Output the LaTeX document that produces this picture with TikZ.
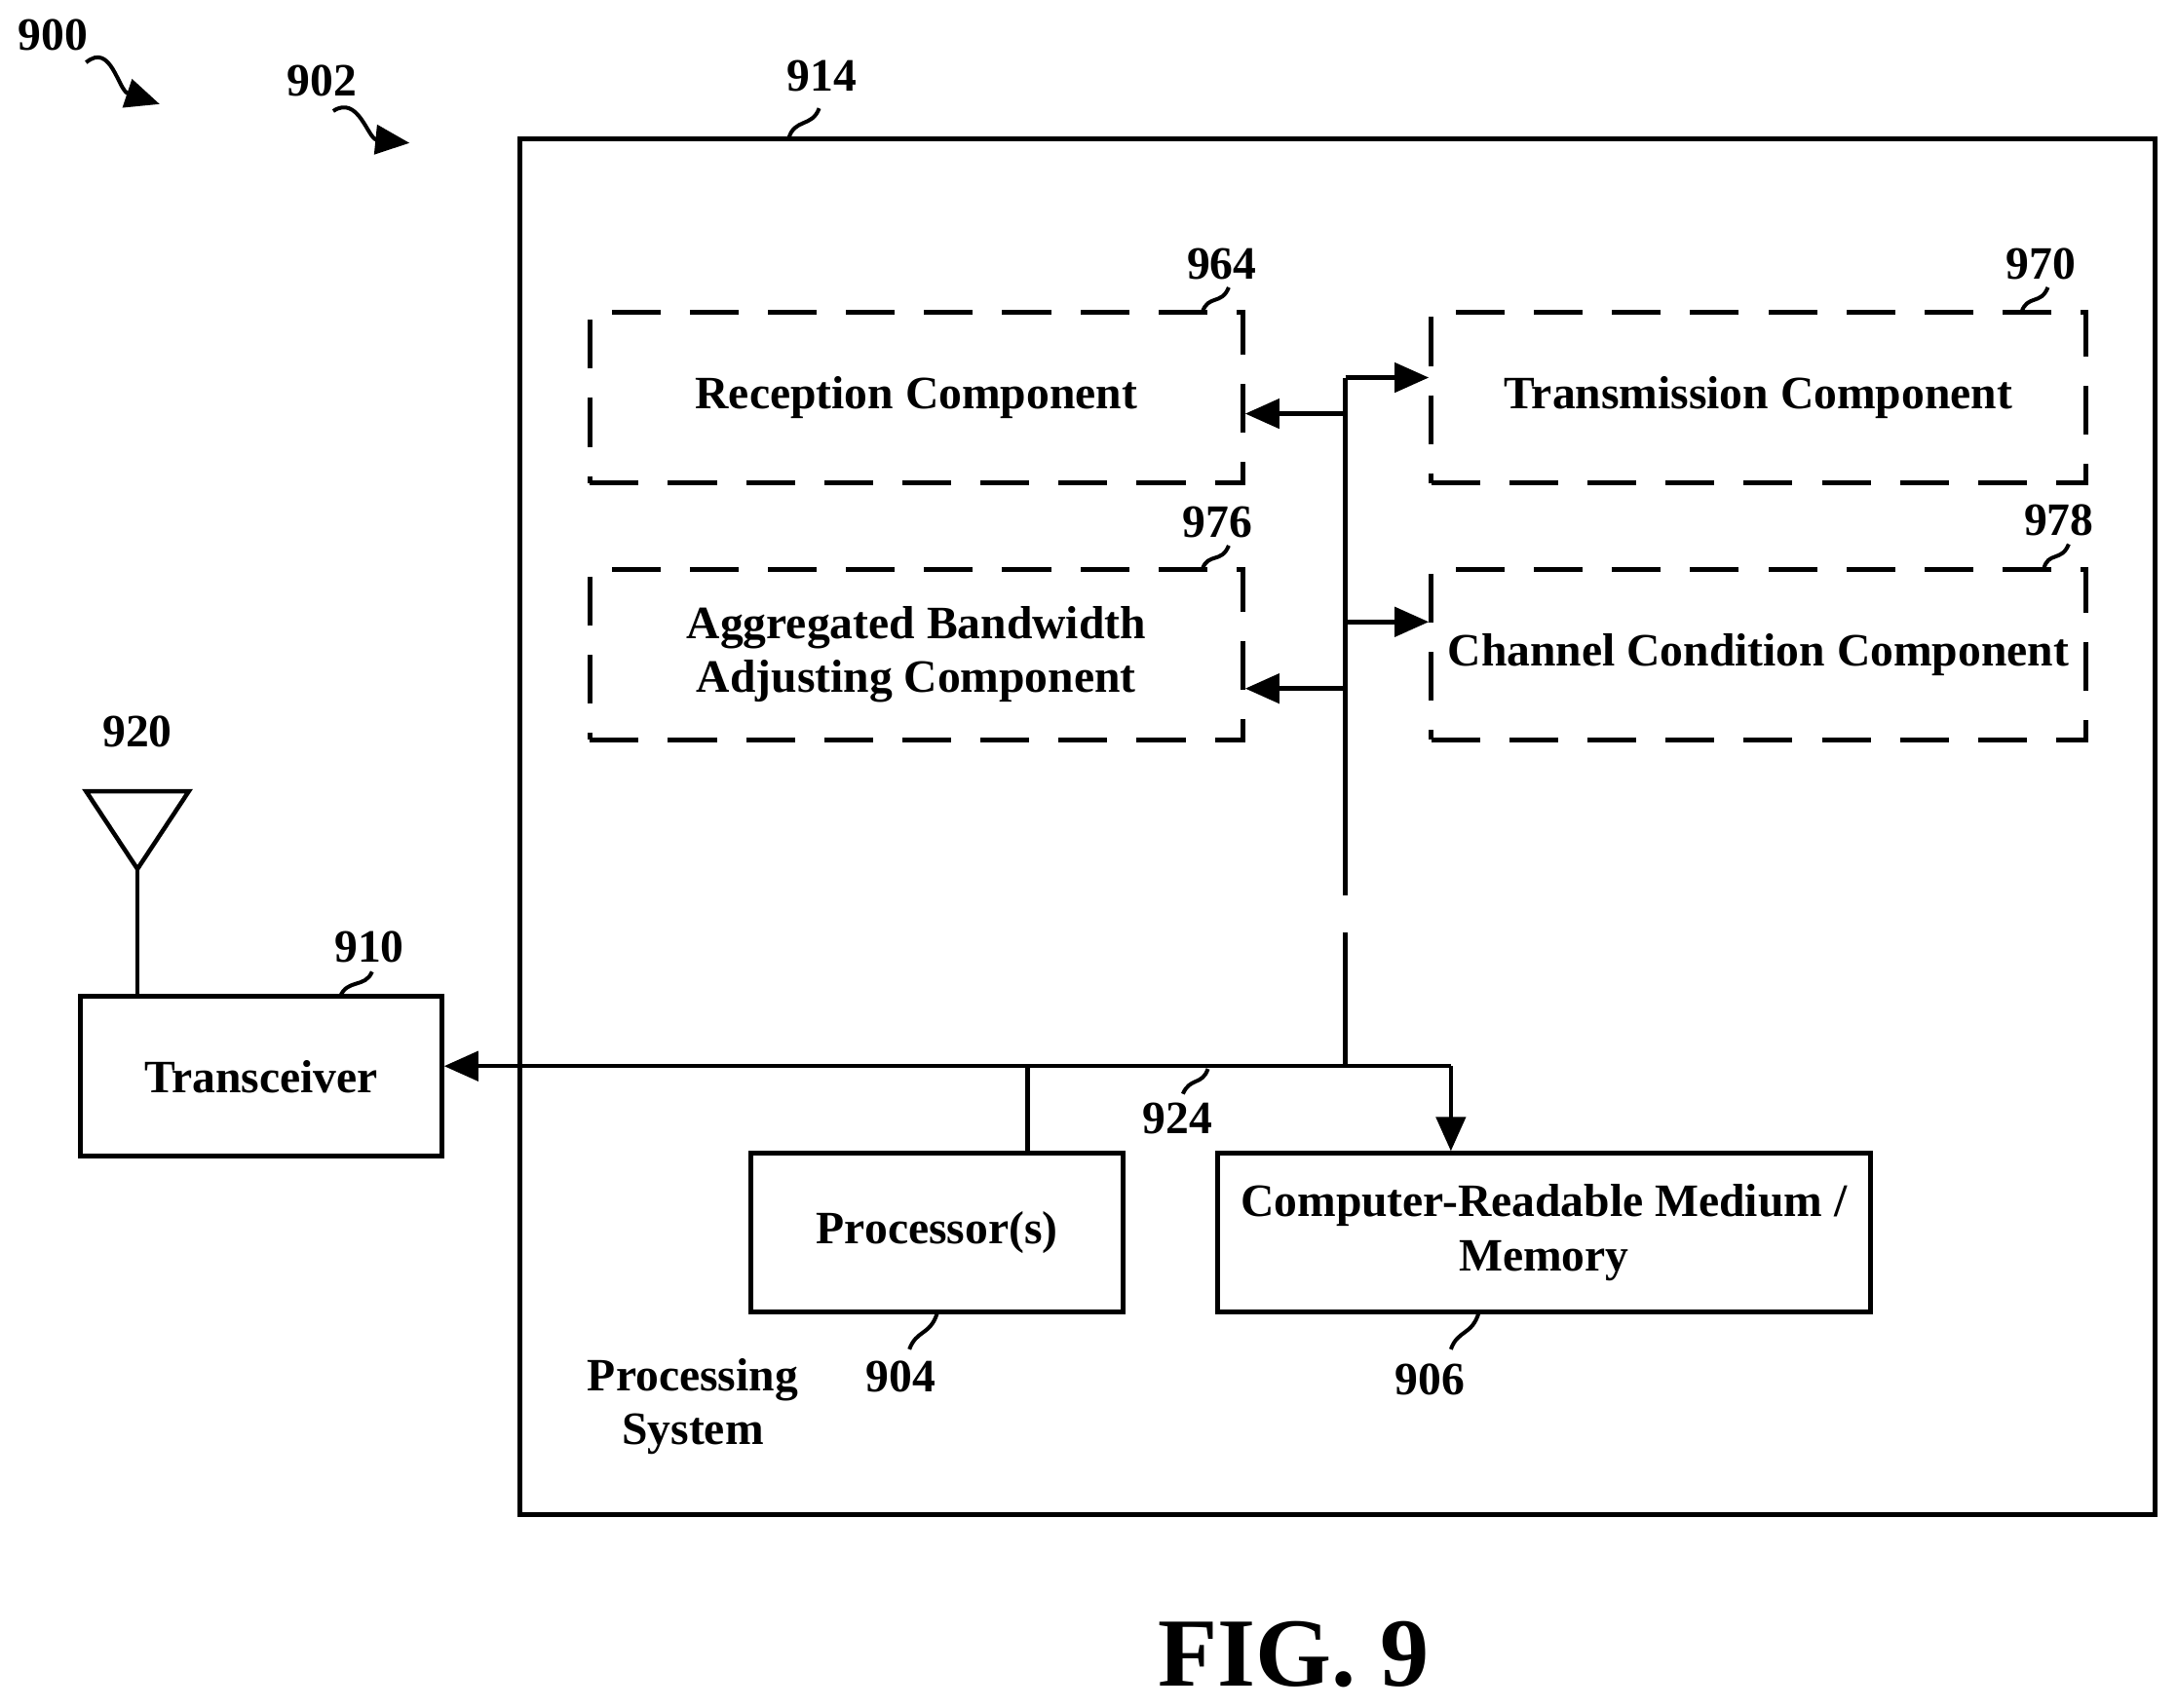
\documentclass[tikz,border=0pt]{standalone}
\usepackage{fontspec}
\setmainfont{Liberation Serif}
\usetikzlibrary{arrows.meta}
\begin{document}
\begin{tikzpicture}[x=0.01cm,y=-0.01cm,
  box/.style={draw,line width=1pt,inner sep=0pt},
  dbox/.style={draw,line width=1pt,dash pattern=on 10pt off 6pt,inner sep=0pt},
  txt/.style={font=\fontsize{9.5}{11}\selectfont\bfseries,align=center},
  lbl/.style={font=\fontsize{9.5}{11}\selectfont\bfseries},
  ln/.style={line width=0.9pt},
  arr/.style={ln,-{Triangle[length=7pt,width=6pt]}},
  sq/.style={line width=0.8pt}]
\useasboundingbox (0,0) rectangle (1568,1230);
\node[box,minimum width=11.77cm,minimum height=9.91cm] (ps) at (963.5,595.5) {};
\node[dbox,minimum width=4.70cm,minimum height=1.23cm,txt] (rx) at (660,286.5) {Reception Component};
\node[dbox,minimum width=4.71cm,minimum height=1.23cm,txt] (tx) at (1266.5,286.5) {Transmission Component};
\node[dbox,minimum width=4.70cm,minimum height=1.23cm,txt] (ag) at (660,471.5) {Aggregated Bandwidth\\Adjusting Component};
\node[dbox,minimum width=4.71cm,minimum height=1.23cm,txt] (cc) at (1266.5,471.5) {Channel Condition Component};
\node[box,minimum width=2.60cm,minimum height=1.15cm,txt] (tr) at (188,775.5) {Transceiver};
\node[box,minimum width=2.68cm,minimum height=1.14cm,txt] (pr) at (675,888) {Processor(s)};
\node[box,minimum width=4.70cm,minimum height=1.14cm,txt] (mem) at (1112,888) {Computer-Readable Medium /\\Memory};
% bus
\coordinate (bt) at (969,272);
\coordinate (g1) at (969,645);
\coordinate (g2) at (969,672);
\coordinate (bb) at (969,768);
\coordinate (br) at (1045,768);
\coordinate (pj) at (740,768);
\draw[ln] (bt) -- (g1);
\draw[ln] (g2) -- (bb);
\draw[arr] (bt) -- (tx.west |- bt);
\draw[arr] (969,298) -- (rx.east |- 0,298);
\draw[arr] (969,448) -- (cc.west |- 0,448);
\draw[arr] (969,496) -- (ag.east |- 0,496);
\draw[ln] (br) -- (bb);
\draw[arr] (bb) -- (tr.east |- bb);
\draw[arr] (br) -- (br |- mem.north);
\draw[ln] (pj) -- (pj |- pr.north);
% antenna
\coordinate (at) at (99,626);
\draw[ln] (62,570) -- (136,570) -- (at) -- cycle;
\draw[ln] (at) -- (tr.north -| at);
% labels
\node[lbl] (l900) at (38,25) {900};
\node[lbl] (l902) at (232,58) {902};
\node[lbl] (l914) at (592,55) {914};
\node[lbl] (l964) at (880,190) {964};
\node[lbl] (l970) at (1470,190) {970};
\node[lbl] (l976) at (877,376) {976};
\node[lbl] (l978) at (1483,375) {978};
\node[lbl] (l920) at (99,527) {920};
\node[lbl] (l910) at (266,682) {910};
\node[lbl] (l924) at (848,806) {924};
\node[lbl] (l904) at (649,992) {904};
\node[lbl] (l906) at (1030,994) {906};
\node[txt] (lps) at (499,1013) {Processing\\System};
\node[font=\fontsize{20}{24}\selectfont\bfseries] (fig) at (932,1192) {FIG. 9};
% squiggles
\draw[sq,-{Triangle[length=7pt,width=6pt]}] (62,45) .. controls (80,30) and (85,65) .. (115,75);
\draw[sq,-{Triangle[length=7pt,width=6pt]}] (240,80) .. controls (258,68) and (265,100) .. (295,103);
\draw[sq] (590,78) .. controls (585,92) and (572,85) .. (568,100);
\draw[sq] (885,207) .. controls (880,220) and (870,212) .. (866,225);
\draw[sq] (1475,207) .. controls (1470,220) and (1460,212) .. (1456,225);
\draw[sq] (885,393) .. controls (880,406) and (870,398) .. (866,410);
\draw[sq] (1490,392) .. controls (1485,405) and (1475,397) .. (1472,410);
\draw[sq] (268,700) .. controls (263,712) and (250,705) .. (245,718);
\draw[sq] (852,788) .. controls (857,776) and (866,782) .. (870,770);
\draw[sq] (655,972) .. controls (660,958) and (670,962) .. (675,946);
\draw[sq] (1045,972) .. controls (1050,958) and (1060,962) .. (1065,946);
\end{tikzpicture}
\end{document}
